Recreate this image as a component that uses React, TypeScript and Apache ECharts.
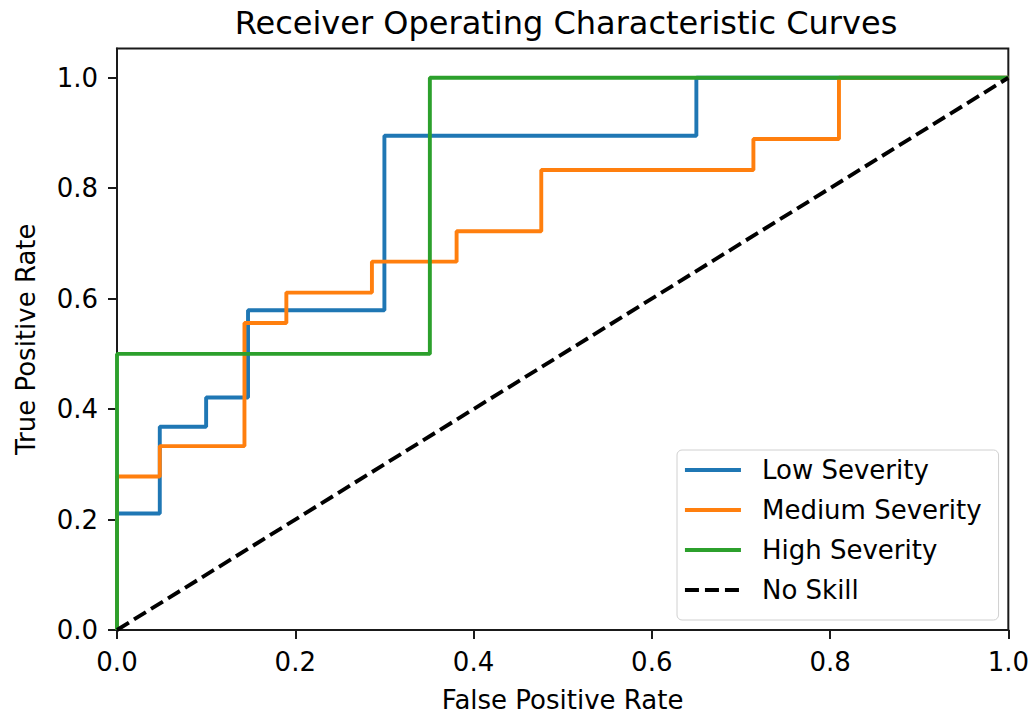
import React, { useEffect, useRef } from "react";
import * as echarts from "echarts";

// ROC curve points (false positive rate, true positive rate) per class
const lowFpr = [0, 0, 0.048, 0.048, 0.1, 0.1, 0.147, 0.147, 0.3, 0.3, 0.65, 0.65, 1.0];
const lowTpr = [0, 0.211, 0.211, 0.368, 0.368, 0.421, 0.421, 0.579, 0.579, 0.895, 0.895, 1.0, 1.0];

const medFpr = [0, 0, 0.048, 0.048, 0.143, 0.143, 0.19, 0.19, 0.286, 0.286, 0.381, 0.381, 0.476, 0.476, 0.714, 0.714, 0.81, 0.81, 1.0];
const medTpr = [0, 0.278, 0.278, 0.333, 0.333, 0.556, 0.556, 0.611, 0.611, 0.667, 0.667, 0.722, 0.722, 0.833, 0.833, 0.889, 0.889, 1.0, 1.0];

const highFpr = [0, 0, 0.351, 0.351, 1.0];
const highTpr = [0, 0.5, 0.5, 1.0, 1.0];

const skillFpr = [0, 1];
const skillTpr = [0, 1];

const seriesNames = ["Low Severity", "Medium Severity", "High Severity", "No Skill"];
const seriesColors = ["#1f77b4", "#ff7f0e", "#2ca02c", "#000000"];

// Tick positions shared by both axes
const tickValues = [0, 0.2, 0.4, 0.6, 0.8, 1.0];

const FONT = "DejaVu Sans";

const zip = (xs: number[], ys: number[]) => xs.map((x, i) => [x, ys[i]]);

export default function App() {
  const ref = useRef<HTMLDivElement>(null);

  useEffect(() => {
    if (!ref.current) return;
    const chart = echarts.init(ref.current, undefined, { renderer: "svg" });

    const curves = [
      zip(lowFpr, lowTpr),
      zip(medFpr, medTpr),
      zip(highFpr, highTpr),
      zip(skillFpr, skillTpr),
    ];

    const axisCommon = {
      type: "value" as const,
      min: 0,
      interval: 0.2,
      nameLocation: "middle" as const,
      nameTextStyle: { fontSize: 26, fontFamily: FONT, color: "#000" },
      axisLine: { show: true, lineStyle: { color: "#1a1a1a", width: 2 } },
      axisTick: {
        show: true,
        inside: false,
        length: 9,
        customValues: tickValues,
        lineStyle: { color: "#1a1a1a", width: 2 },
      },
      axisLabel: {
        fontSize: 26,
        fontFamily: FONT,
        color: "#000",
        margin: 19,
        customValues: tickValues,
        formatter: (v: number) => v.toFixed(1),
      },
      splitLine: { show: false },
    };

    chart.setOption({
      animation: false,
      backgroundColor: "#fff",
      title: {
        text: "Receiver Operating Characteristic Curves",
        left: 561,
        textAlign: "center",
        top: 2,
        textStyle: { fontSize: 32, fontWeight: "normal", fontFamily: FONT, color: "#000" },
      },
      grid: {
        left: 117,
        right: 23,
        top: 48.5,
        bottom: 91,
        show: true,
        borderColor: "#1a1a1a",
        borderWidth: 2,
        backgroundColor: "transparent",
      },
      xAxis: { ...axisCommon, max: 1, name: "False Positive Rate", nameGap: 57 },
      yAxis: { ...axisCommon, max: 1.053, name: "True Positive Rate", nameGap: 78 },
      legend: {
        orient: "vertical",
        left: 677,
        top: 450,
        data: seriesNames,
        itemWidth: 56,
        itemHeight: 14,
        itemGap: 10,
        padding: [5, 17, 15, 6],
        backgroundColor: "#fff",
        borderColor: "#d0d0d0",
        borderWidth: 1,
        borderRadius: 5,
        itemStyle: { color: "rgba(0,0,0,0)", borderWidth: 0, opacity: 0 },
        lineStyle: { width: 3.9 },
        textStyle: { fontSize: 26, fontFamily: FONT, color: "#000", lineHeight: 30, padding: [0, 0, 0, 16] },
      },
      series: curves.map((data, i) => ({
        name: seriesNames[i],
        type: "line",
        data,
        symbol: "none",
        showSymbol: false,
        color: seriesColors[i],
        lineStyle: {
          color: seriesColors[i],
          width: 3.9,
          type: i === 3 ? [14, 6] : "solid",
        },
        z: 2 + i,
      })),
    });

    return () => chart.dispose();
  }, []);

  return <div ref={ref} style={{ position: "fixed", left: 0, top: 0, width: 1032, height: 721 }} />;
}
